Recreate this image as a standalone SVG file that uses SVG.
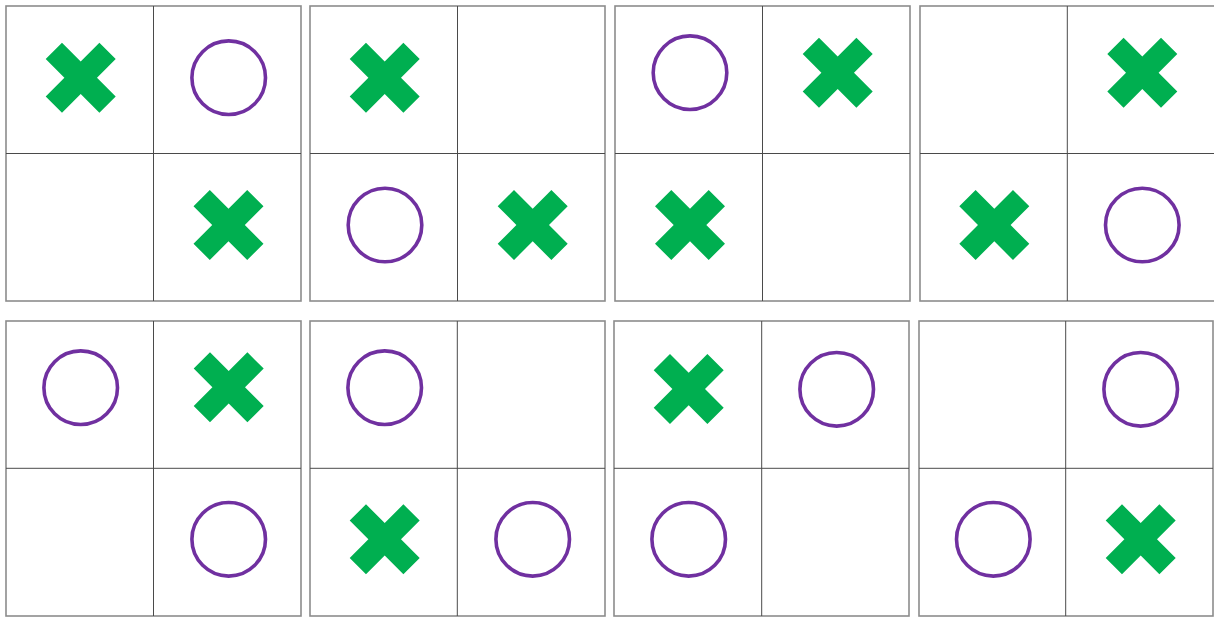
<svg xmlns="http://www.w3.org/2000/svg" xmlns:xlink="http://www.w3.org/1999/xlink" width="1214" height="617" viewBox="0 0 1214 617">
<style>
.frame{fill:#fff;stroke:#8c8c8c;stroke-width:1.6}
.grid{stroke:#4a4a4a;stroke-width:1;fill:none}
.o{fill:none;stroke:#7030A0;stroke-width:3.6}
.x{fill:#00AF50}
</style>
<defs>
<path id="xm" class="x" d="M-35,-18.7 L-18.7,-35 L0,-16.3 L18.7,-35 L35,-18.7 L16.3,0 L35,18.7 L18.7,35 L0,16.3 L-18.7,35 L-35,18.7 L-16.3,0 Z"/>
</defs>
<rect width="1214" height="617" fill="#fff"/>

<g id="panel1">
<rect class="frame" x="6" y="6" width="295" height="295"/>
<path class="grid" d="M153.5,6V301M6,153.5H301"/>
<use xlink:href="#xm" transform="translate(80.7,77.7)"/>
<circle class="o" cx="228.7" cy="77.7" r="36.8"/>
<use xlink:href="#xm" transform="translate(228.5,225)"/>
</g>

<g id="panel2">
<rect class="frame" x="310" y="6" width="295" height="295"/>
<path class="grid" d="M457.5,6V301M310,153.5H605"/>
<use xlink:href="#xm" transform="translate(384.7,77.7)"/>
<circle class="o" cx="385" cy="225" r="36.8"/>
<use xlink:href="#xm" transform="translate(532.7,225)"/>
</g>

<g id="panel3">
<rect class="frame" x="615" y="6" width="295" height="295"/>
<path class="grid" d="M762.5,6V301M615,153.5H910"/>
<circle class="o" cx="690" cy="72.7" r="36.8"/>
<use xlink:href="#xm" transform="translate(837.7,72.7)"/>
<use xlink:href="#xm" transform="translate(690,225)"/>
</g>

<g id="panel4">
<rect class="frame" x="920" y="6" width="295" height="295"/>
<path class="grid" d="M1067.3,6V301M920,153.5H1215"/>
<use xlink:href="#xm" transform="translate(1142.3,72.7)"/>
<use xlink:href="#xm" transform="translate(994.3,225)"/>
<circle class="o" cx="1142.3" cy="225" r="36.8"/>
</g>

<g id="panel5">
<rect class="frame" x="6" y="321" width="295" height="295"/>
<path class="grid" d="M153.5,321V616M6,468.3H301"/>
<circle class="o" cx="80.7" cy="387.7" r="36.8"/>
<use xlink:href="#xm" transform="translate(228.7,387.3)"/>
<circle class="o" cx="228.7" cy="539.3" r="36.8"/>
</g>

<g id="panel6">
<rect class="frame" x="310" y="321" width="295" height="295"/>
<path class="grid" d="M457.3,321V616M310,468.3H605"/>
<circle class="o" cx="384.7" cy="387.7" r="36.8"/>
<use xlink:href="#xm" transform="translate(384.7,539.3)"/>
<circle class="o" cx="532.7" cy="539.3" r="36.8"/>
</g>

<g id="panel7">
<rect class="frame" x="614" y="321" width="295" height="295"/>
<path class="grid" d="M761.7,321V616M614,468.3H909"/>
<use xlink:href="#xm" transform="translate(688.7,389)"/>
<circle class="o" cx="836.7" cy="389.3" r="36.8"/>
<circle class="o" cx="688.7" cy="539.3" r="36.8"/>
</g>

<g id="panel8">
<rect class="frame" x="919" y="321" width="294" height="295"/>
<path class="grid" d="M1065.7,321V616M919,468.3H1213"/>
<circle class="o" cx="1140.7" cy="389.3" r="36.8"/>
<circle class="o" cx="993.3" cy="539.3" r="36.8"/>
<use xlink:href="#xm" transform="translate(1140.7,539.3)"/>
</g>

<g id="connectors"></g>
</svg>
